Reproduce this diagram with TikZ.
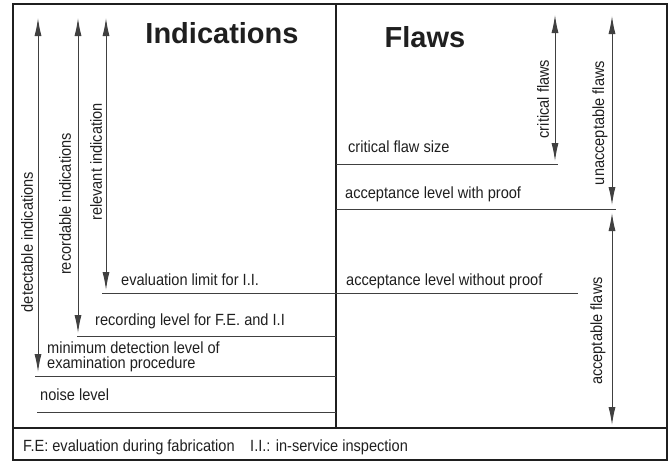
\documentclass[tikz,border=0pt]{standalone}
\usepackage{fontspec}
\setmainfont{Liberation Sans}
\newfontfamily\narrowsans{Liberation Sans}[FakeStretch=0.9]
\usetikzlibrary{arrows.meta}
\definecolor{linegray}{gray}{0.25}
\definecolor{txt}{gray}{0.12}
\begin{document}
\begin{tikzpicture}[x=1pt,y=-1pt,
  frame/.style={draw=txt, line width=2pt},
  divider/.style={draw=txt, line width=1.6pt},
  lvl/.style={draw=linegray, line width=1pt},
  dimarrow/.style={draw=linegray, line width=1pt, {Latex[length=18pt,width=7pt]}-{Latex[length=18pt,width=7pt]}},
  lbl/.style={anchor=base west, inner sep=0pt, font=\narrowsans\fontsize{16.2}{17}\selectfont, text=txt},
  vlbl/.style={rotate=90, inner sep=0pt, font=\narrowsans\fontsize{16.2}{17}\selectfont, text=txt},
  heading/.style={anchor=base, inner sep=0pt, font=\fontsize{29}{30}\selectfont\bfseries, text=txt}]
\useasboundingbox (0,0) rectangle (669,464);

% frame and dividers
\coordinate (tl) at (13,4);
\coordinate (br) at (667,460);
\coordinate (fl) at (13,428);
\coordinate (fr) at (667,428);
\coordinate (dt) at (336,4);
\coordinate (db) at (336,428);
\draw[frame] (tl) rectangle (br);
\draw[frame,line width=2.4pt] (fl) -- (fr);
\draw[divider] (dt) -- (db);

% headings
\node[heading] (hind) at (222,43) {Indications};
\node[heading] (hflaw) at (425,47) {Flaws};

% level lines
\coordinate (evA) at (102,293);  \coordinate (evB) at (578,293);
\coordinate (rcA) at (77,336);   \coordinate (rcB) at (336,336);
\coordinate (mdA) at (35,376);   \coordinate (mdB) at (336,376);
\coordinate (nsA) at (37,412);   \coordinate (nsB) at (336,412);
\coordinate (cfA) at (336,164);  \coordinate (cfB) at (558,164);
\coordinate (apA) at (336,209);  \coordinate (apB) at (616,209);
\draw[lvl] (evA) -- (evB);
\draw[lvl] (rcA) -- (rcB);
\draw[lvl] (mdA) -- (mdB);
\draw[lvl] (nsA) -- (nsB);
\draw[lvl] (cfA) -- (cfB);
\draw[lvl] (apA) -- (apB);

% level labels
\node[lbl] (tcf) at (348,152) {critical flaw size};
\node[lbl] (tap) at (345,198) {acceptance level with proof};
\node[lbl] (tanp) at (346,285) {acceptance level without proof};
\node[lbl] (tev) at (121,285) {evaluation limit for I.I.};
\node[lbl] (trc) at (95,325) {recording level for F.E. and I.I};
\node[lbl] (tmd1) at (47,353) {minimum detection level of};
\node[lbl] (tmd2) at (47,368) {examination procedure};
\node[lbl] (tns) at (40,400) {noise level};

% footer
\node[lbl] (f1) at (23,451) {F.E: evaluation during fabrication};
\node[lbl] (f2) at (250,451) {I.I.: in-service inspection};

% range arrows
\coordinate (aDt) at (38,18);   \coordinate (aDb) at (38,372);
\coordinate (aRt) at (78,18);   \coordinate (aRb) at (78,333);
\coordinate (aVt) at (106,18);  \coordinate (aVb) at (106,290);
\coordinate (aCt) at (555,15);  \coordinate (aCb) at (555,161);
\coordinate (aUt) at (612,16);  \coordinate (aUb) at (612,205);
\coordinate (aAt) at (612,213); \coordinate (aAb) at (612,425);
\draw[dimarrow] (aDt) -- (aDb);
\draw[dimarrow] (aRt) -- (aRb);
\draw[dimarrow] (aVt) -- (aVb);
\draw[dimarrow] (aCt) -- (aCb);
\draw[dimarrow] (aUt) -- (aUb);
\draw[dimarrow] (aAt) -- (aAb);

% range labels
\node[vlbl] (vD) at (27,242) {detectable indications};
\node[vlbl] (vR) at (65,204) {recordable indications};
\node[vlbl] (vV) at (96,162) {relevant indication};
\node[vlbl] (vC) at (543,99) {critical flaws};
\node[vlbl] (vU) at (600,123) {unacceptable flaws};
\node[vlbl] (vA) at (598,331) {acceptable flaws};
\end{tikzpicture}
\end{document}
